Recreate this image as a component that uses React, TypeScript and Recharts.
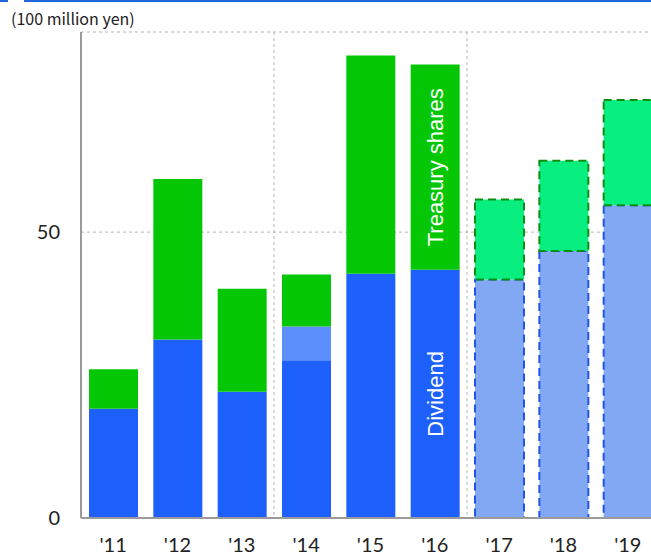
import React from "react"
import { Bar, BarChart, CartesianGrid, Cell, LabelList, XAxis, YAxis } from "recharts"

// fiscal years, '17-'19 are plans
const years = ["'11", "'12", "'13", "'14", "'15", "'16", "'17", "'18", "'19"]
const isForecast = [false, false, false, false, false, false, true, true, true]

// 100 million yen
const regularDividend = [19.1, 31.2, 22.1, 27.6, 42.7, 43.4, 41.7, 46.7, 54.7]
const extraDividend = [0, 0, 0, 5.9, 0, 0, 0, 0, 0]
const treasuryShares = [6.9, 28.1, 18.0, 9.1, 38.2, 35.9, 14.0, 15.8, 18.4]

const yTicks = [0, 50]
const periodStarts = ["'14", "'17"]
const labelYear = "'16"

const data = years.map((year, i) => ({
  year,
  dividend: regularDividend[i],
  extra: extraDividend[i],
  treasury: treasuryShares[i],
}))

const labelIndex = years.indexOf(labelYear)

const sideLabel = (text: string) => (props: any) => {
  const { x, y, width, height, index } = props
  if (index !== labelIndex) return null
  const cx = Number(x) + Number(width) / 2
  const cy = Number(y) + Number(height) / 2
  return (
    <text
      x={cx}
      y={cy}
      fill="#ffffff"
      fontSize={22}
      fontFamily="Liberation Sans, Arial, sans-serif"
      textAnchor="middle"
      dominantBaseline="central"
      transform={`rotate(-90 ${cx} ${cy})`}
    >
      {text}
    </text>
  )
}

const tickStyle = { fontSize: 20, fill: "#222", fontFamily: "Lato, sans-serif" }

// band boundaries of the category axis (no band padding)
const periodLines = ({ offset }: any) =>
  periodStarts.map((y) => offset.left + (offset.width * years.indexOf(y)) / years.length)

export default function App() {
  return (
    <div
      style={{
        position: "absolute",
        left: 0,
        top: 0,
        width: 651,
        height: 556,
        overflow: "hidden",
        background: "#fff",
      }}
    >
      <div style={{ position: "absolute", left: 0, top: 0, width: 8, height: 2, background: "#1f66e0" }} />
      <div style={{ position: "absolute", left: 24, top: 0, right: 0, height: 2, background: "#1f66e0" }} />
      <div
        style={{
          position: "absolute",
          left: 11,
          top: 8,
          fontSize: 16,
          lineHeight: "20px",
          color: "#222",
          fontFamily: "'Noto Sans CJK JP', sans-serif",
        }}
      >
        (100 million yen)
      </div>
      <BarChart
        width={660}
        height={556}
        data={data}
        margin={{ top: 32, right: 0, left: 0, bottom: 0 }}
      >
        <CartesianGrid
          stroke="#b5b5b5"
          strokeDasharray="3 3"
          verticalCoordinatesGenerator={periodLines}
        />
        <XAxis
          dataKey="year"
          height={38}
          tickLine={false}
          tickSize={0}
          tickMargin={20}
          axisLine={{ stroke: "#9a9a9a", strokeWidth: 2 }}
          tick={tickStyle}
          interval={0}
        />
        <YAxis
          width={81}
          domain={[0, 85]}
          ticks={yTicks}
          tickLine={false}
          tickSize={0}
          tickMargin={21}
          axisLine={{ stroke: "#9a9a9a", strokeWidth: 2 }}
          tick={tickStyle}
        />
        <Bar dataKey="dividend" stackId="a" barSize={49} isAnimationActive={false}>
          {data.map((d, i) => (
            <Cell
              key={d.year}
              fill={isForecast[i] ? "#82a8f4" : "#1e60fc"}
              stroke={isForecast[i] ? "#1e55e8" : "none"}
              strokeWidth={isForecast[i] ? 2 : 0}
              strokeDasharray={isForecast[i] ? "8 5" : undefined}
            />
          ))}
          <LabelList content={sideLabel("Dividend")} />
        </Bar>
        <Bar dataKey="extra" stackId="a" barSize={49} fill="#5d8ffc" isAnimationActive={false} />
        <Bar dataKey="treasury" stackId="a" barSize={49} isAnimationActive={false}>
          {data.map((d, i) => (
            <Cell
              key={d.year}
              fill={isForecast[i] ? "#08ef80" : "#06c706"}
              stroke={isForecast[i] ? "#0b8f12" : "none"}
              strokeWidth={isForecast[i] ? 2 : 0}
              strokeDasharray={isForecast[i] ? "8 5" : undefined}
            />
          ))}
          <LabelList content={sideLabel("Treasury shares")} />
        </Bar>
      </BarChart>
    </div>
  )
}
